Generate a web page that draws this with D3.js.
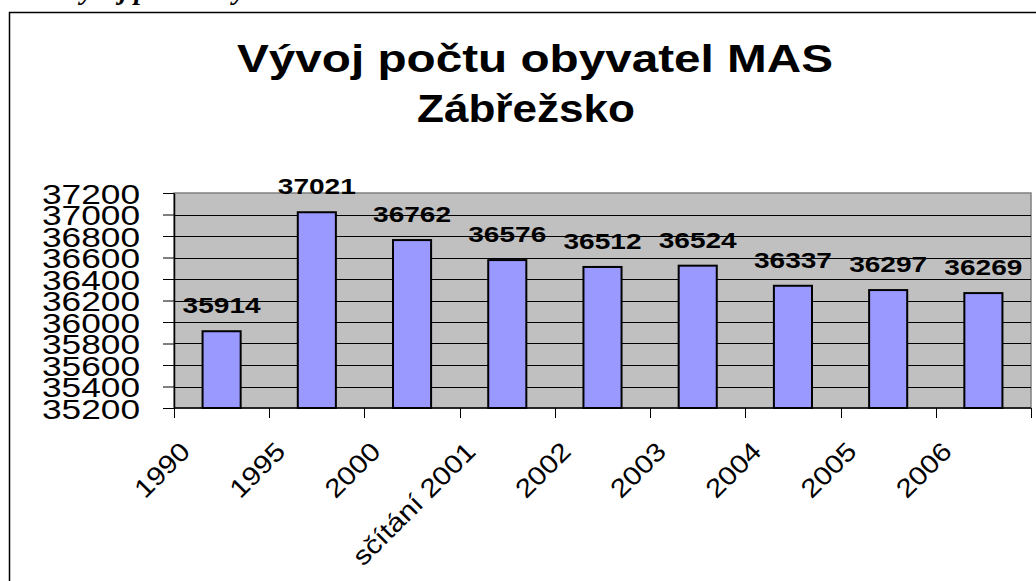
<!DOCTYPE html>
<html>
<head>
<meta charset="utf-8">
<script src="https://cdn.jsdelivr.net/npm/d3@7"></script>
<style>
    body { margin: 0; background: #fff; }
    svg { display: block; }
</style>
</head>
<body>
<div id="chart"></div>
<script>
    "use strict";

    // chart data
    const categories = ["1990", "1995", "2000", "sčítání 2001", "2002", "2003", "2004", "2005", "2006"];
    const population = [35914, 37021, 36762, 36576, 36512, 36524, 36337, 36297, 36269];
    const yTicks = [35200, 35400, 35600, 35800, 36000, 36200, 36400, 36600, 36800, 37000, 37200];
    const titleLines = ["Vývoj počtu obyvatel MAS", "Zábřežsko"];
    const captionText = "Vývoj počtu obyvatel";

    const width = 1036;
    const height = 581;
    const plot = { left: 174, right: 1031, top: 193, bottom: 408 };

    const svg = d3.select("#chart").append("svg")
        .attr("width", width)
        .attr("height", height);

    // caption above the frame, cut off by the page edge
    svg.append("text")
        .attr("x", 62)
        .attr("y", -1)
        .style("font-family", "'Liberation Serif', 'Times New Roman', serif")
        .style("font-weight", "bold")
        .style("font-style", "italic")
        .style("font-size", "28px")
        .text(captionText);

    // chart frame (open to the right and bottom)
    svg.append("path")
        .attr("d", "M9.5," + height + "V12.5H" + width)
        .attr("fill", "none")
        .attr("stroke", "#000")
        .attr("stroke-width", 1.5);

    // title, stretched wide like the original export
    const titleLayout = [{ x: 535, y: 72, w: 596 }, { x: 526, y: 122, w: 218 }];
    svg.append("g")
        .selectAll("text")
        .data(titleLines)
        .enter()
        .append("text")
        .attr("x", (d, i) => titleLayout[i].x)
        .attr("y", (d, i) => titleLayout[i].y)
        .attr("text-anchor", "middle")
        .attr("textLength", (d, i) => titleLayout[i].w)
        .attr("lengthAdjust", "spacingAndGlyphs")
        .style("font-family", "'Liberation Sans', Arial, sans-serif")
        .style("font-weight", "bold")
        .style("font-size", "38px")
        .text(d => d);

    // scales
    const xScale = d3.scaleBand()
        .domain(categories)
        .range([plot.left, plot.right])
        .paddingInner(0.6)
        .paddingOuter(0.3);

    const yScale = d3.scaleLinear()
        .domain([35200, 37200])
        .range([plot.bottom, plot.top]);

    // plot background
    svg.append("rect")
        .attr("x", plot.left)
        .attr("y", plot.top)
        .attr("width", plot.right - plot.left)
        .attr("height", plot.bottom - plot.top)
        .attr("fill", "#c0c0c0")
        .attr("stroke", "#808080")
        .attr("stroke-width", 1.5);

    // gridlines
    svg.append("g")
        .selectAll("line")
        .data(yTicks.slice(1, -1))
        .enter()
        .append("line")
        .attr("x1", plot.left)
        .attr("x2", plot.right)
        .attr("y1", d => Math.round(yScale(d)) + 0.5)
        .attr("y2", d => Math.round(yScale(d)) + 0.5)
        .attr("stroke", "#000")
        .attr("stroke-width", 1);

    // bars
    svg.append("g")
        .selectAll("rect")
        .data(population)
        .enter()
        .append("rect")
        .attr("x", (d, i) => xScale(categories[i]))
        .attr("y", d => yScale(d))
        .attr("width", xScale.bandwidth())
        .attr("height", d => plot.bottom - yScale(d))
        .attr("fill", "#9999ff")
        .attr("stroke", "#000")
        .attr("stroke-width", 2);

    // y axis
    let yAxis = d3.axisLeft(yScale)
        .tickValues(yTicks)
        .tickFormat(d3.format("d"))
        .tickSizeInner(11)
        .tickSizeOuter(0)
        .tickPadding(23);

    let gy = svg.append("g")
        .attr("transform", "translate(" + plot.left + ",0)")
        .call(yAxis);
    gy.select(".domain").attr("stroke", "#000").attr("stroke-width", 1.5);
    gy.selectAll("line").attr("stroke", "#000");
    gy.selectAll("text")
        .attr("dy", "0.36em")
        .attr("textLength", 98)
        .attr("lengthAdjust", "spacingAndGlyphs")
        .style("font-family", "'Liberation Sans', Arial, sans-serif")
        .style("font-size", "28px")
        .style("fill", "#000");

    // x axis: ticks between categories
    const boundaries = d3.range(categories.length + 1).map(i => plot.left + i * xScale.step());
    svg.append("line")
        .attr("x1", plot.left)
        .attr("x2", plot.right)
        .attr("y1", plot.bottom)
        .attr("y2", plot.bottom)
        .attr("stroke", "#000")
        .attr("stroke-width", 1.5);
    svg.append("g")
        .selectAll("line")
        .data(boundaries)
        .enter()
        .append("line")
        .attr("x1", d => Math.round(d) + 0.5)
        .attr("x2", d => Math.round(d) + 0.5)
        .attr("y1", plot.bottom)
        .attr("y2", plot.bottom + 10)
        .attr("stroke", "#000");

    // rotated category labels, stretched along the baseline
    svg.append("g")
        .selectAll("text")
        .data(categories)
        .enter()
        .append("text")
        .attr("transform", d => "translate(" + (xScale(d) + xScale.bandwidth() / 2 - 30) + "," + (plot.bottom + 45) + ") rotate(-45) scale(1.14,1)")
        .attr("text-anchor", "end")
        .style("font-family", "'Liberation Sans', Arial, sans-serif")
        .style("font-size", "26px")
        .text(d => d);

    // value labels
    svg.append("g")
        .selectAll("text")
        .data(population)
        .enter()
        .append("text")
        .attr("x", (d, i) => xScale(categories[i]) + xScale.bandwidth() / 2)
        .attr("y", d => yScale(d) - 18)
        .attr("text-anchor", "middle")
        .attr("textLength", 78)
        .attr("lengthAdjust", "spacingAndGlyphs")
        .style("font-family", "'Liberation Sans', Arial, sans-serif")
        .style("font-weight", "bold")
        .style("font-size", "22px")
        .text(d => d);
</script>
</body>
</html>
